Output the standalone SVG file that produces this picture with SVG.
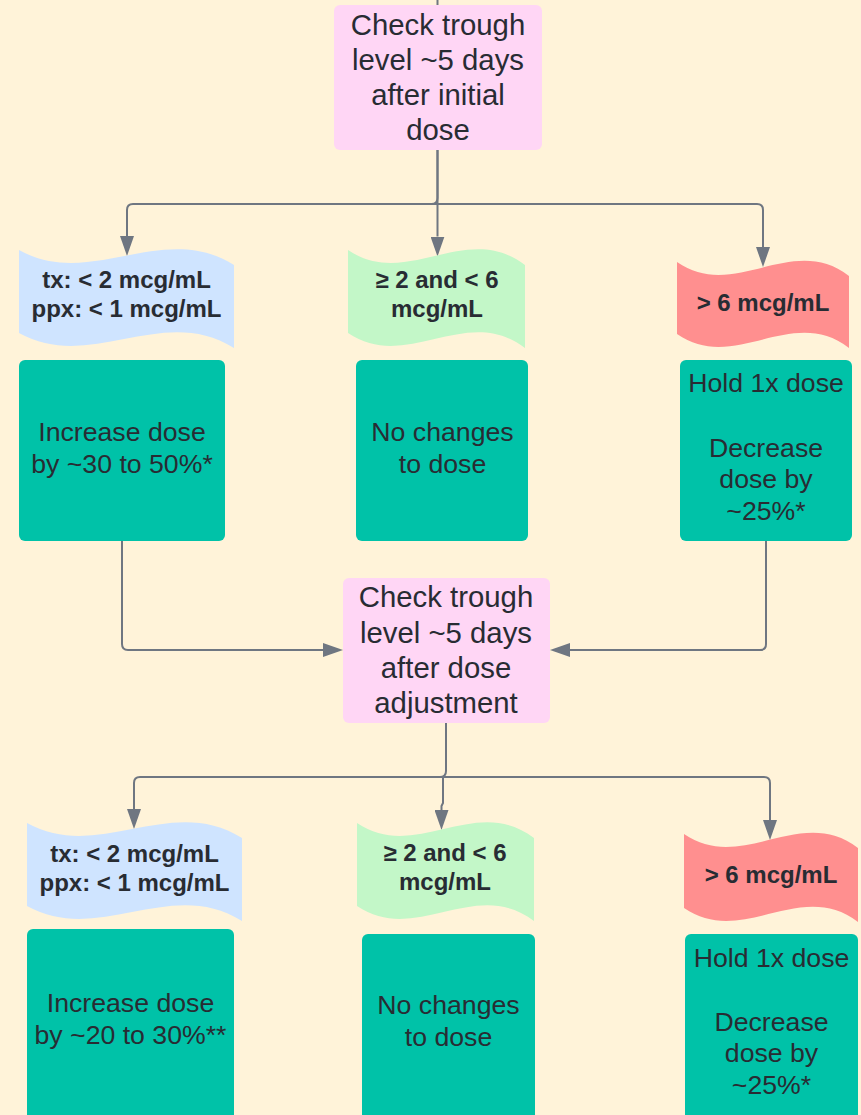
<svg xmlns="http://www.w3.org/2000/svg" width="861" height="1115" viewBox="0 0 861 1115">
<defs>
<style>
.bg{fill:#FFF3D9}
.check{fill:#FFD6F5}
.act{fill:#00C2A8}
.blue{fill:#CFE4FF}
.green{fill:#C3F7C8}
.red{fill:#FF8F8F}
.t1{font-family:"Liberation Sans",Arial,sans-serif;font-size:29.33px;fill:#282C33;text-anchor:middle}
.t2{font-family:"Liberation Sans",Arial,sans-serif;font-size:26.67px;fill:#282C33;text-anchor:middle}
.t3{font-family:"Liberation Sans",Arial,sans-serif;font-size:24px;font-weight:bold;fill:#282C33;text-anchor:middle}
.ln{fill:none;stroke:#6F7681;stroke-width:2}
.arr{fill:none;stroke:#6F7681;stroke-width:2;marker-end:url(#ah)}
</style>
<marker id="ah" viewBox="0 -7 20 14" markerWidth="20" markerHeight="14" refX="0" refY="0" markerUnits="userSpaceOnUse" orient="auto">
<path d="M0,-7 L20,0 L0,7 Z" fill="#6F7681"/>
</marker>
</defs>
<rect class="bg" x="0" y="0" width="861" height="1115"/>

<g id="connectors">
<path class="ln" d="M437.5,0 V5"/>
<path class="ln" d="M437.5,150 V198 Q437.5,204 431.5,204 H407"/>
<path class="arr" d="M437.5,204 H133 Q127,204 127,210 V236"/>
<path class="arr" d="M437.5,150 V236.5"/>
<path class="arr" d="M437.5,204 H757 Q763,204 763,210 V247"/>
<path class="arr" d="M122,541 V644 Q122,650 128,650 H323"/>
<path class="arr" d="M766,541 V644 Q766,650 760,650 H570"/>
<path class="ln" d="M446,723 V771 Q446,777 440,777 H410"/>
<path class="arr" d="M443,777 H140 Q134,777 134,783 V809"/>
<path class="arr" d="M443,777 H764 Q770,777 770,783 V820"/>
<path class="arr" d="M443,777 V803 L441.5,806 V810"/>
</g>

<g id="check1">
<rect class="check" x="334" y="5" width="208" height="145" rx="6"/>
<text class="t1" x="438" y="34.5">Check trough</text>
<text class="t1" x="438" y="69.7">level ~5 days</text>
<text class="t1" x="438" y="105">after initial</text>
<text class="t1" x="438" y="140.2">dose</text>
</g>

<g id="low1">
<path class="blue" d="M19,250 C90.7,290 162.3,220 234,265 L234,348 C162.3,303 90.7,373 19,333 Z"/>
<text class="t3" x="126.5" y="288">tx: &lt; 2 mcg/mL</text>
<text class="t3" x="126.5" y="317">ppx: &lt; 1 mcg/mL</text>
</g>

<g id="mid1">
<path class="green" d="M348,250 C407,290 466,220 525,265 L525,348 C466,303 407,373 348,333 Z"/>
<text class="t3" x="437" y="287.7">≥ 2 and &lt; 6</text>
<text class="t3" x="437" y="316.7">mcg/mL</text>
</g>

<g id="high1">
<path class="red" d="M677,262 C734.3,302 791.7,232 849,276 L849,348 C791.7,304 734.3,374 677,334 Z"/>
<text class="t3" x="763" y="310.7">&gt; 6 mcg/mL</text>
</g>

<g id="inc1">
<rect class="act" x="19" y="360" width="206" height="181" rx="6"/>
<text class="t2" x="122" y="441">Increase dose</text>
<text class="t2" x="122" y="472.5">by ~30 to 50%*</text>
</g>

<g id="nochange1">
<rect class="act" x="356" y="360" width="172" height="181" rx="6"/>
<text class="t2" x="442.5" y="441">No changes</text>
<text class="t2" x="442.5" y="472.7">to dose</text>
</g>

<g id="hold1">
<rect class="act" x="680" y="360" width="172" height="181" rx="6"/>
<text class="t2" x="766" y="392">Hold 1x dose</text>
<text class="t2" x="766" y="456.5">Decrease</text>
<text class="t2" x="766" y="488">dose by</text>
<text class="t2" x="766" y="519.5">~25%*</text>
</g>

<g id="check2">
<rect class="check" x="343" y="578" width="207" height="145" rx="6"/>
<text class="t1" x="446" y="607">Check trough</text>
<text class="t1" x="446" y="642.5">level ~5 days</text>
<text class="t1" x="446" y="677.7">after dose</text>
<text class="t1" x="446" y="712.7">adjustment</text>
</g>

<g id="low2">
<path class="blue" d="M27,823 C98.7,863 170.3,793 242,838 L242,921 C170.3,876 98.7,946 27,906 Z"/>
<text class="t3" x="134.5" y="861.7">tx: &lt; 2 mcg/mL</text>
<text class="t3" x="134.5" y="890.7">ppx: &lt; 1 mcg/mL</text>
</g>

<g id="mid2">
<path class="green" d="M357,823 C416,863 475,793 534,838 L534,921 C475,876 416,946 357,906 Z"/>
<text class="t3" x="445" y="861">≥ 2 and &lt; 6</text>
<text class="t3" x="445" y="890">mcg/mL</text>
</g>

<g id="high2">
<path class="red" d="M684,834 C742,874 800,804 858,848 L858,922 C800,878 742,948 684,908 Z"/>
<text class="t3" x="771" y="883.3">&gt; 6 mcg/mL</text>
</g>

<g id="inc2">
<rect class="act" x="27" y="929" width="207" height="200" rx="6"/>
<text class="t2" x="130.5" y="1012.3">Increase dose</text>
<text class="t2" x="130.5" y="1044">by ~20 to 30%**</text>
</g>

<g id="nochange2">
<rect class="act" x="362" y="934" width="173" height="200" rx="6"/>
<text class="t2" x="448.5" y="1014">No changes</text>
<text class="t2" x="448.5" y="1045.7">to dose</text>
</g>

<g id="hold2">
<rect class="act" x="685" y="934" width="173" height="200" rx="6"/>
<text class="t2" x="771.5" y="966.7">Hold 1x dose</text>
<text class="t2" x="771.5" y="1030.7">Decrease</text>
<text class="t2" x="771.5" y="1062.2">dose by</text>
<text class="t2" x="771.5" y="1094">~25%*</text>
</g>
</svg>
